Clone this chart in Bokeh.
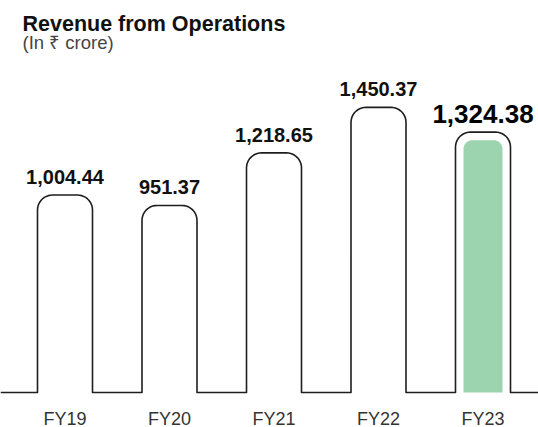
import numpy as np
from bokeh.plotting import figure
from bokeh.models import Range1d, Label, ColumnDataSource
from bokeh.core.properties import value
from bokeh.embed import file_html
from bokeh.resources import INLINE

# ---- data ----
categories = ["FY19", "FY20", "FY21", "FY22", "FY23"]
revenue = [1004.44, 951.37, 1218.65, 1450.37, 1324.38]
value_labels = ["1,004.44", "951.37", "1,218.65", "1,450.37", "1,324.38"]
highlight = "FY23"
title_text = "Revenue from Operations"
subtitle_text = "(In \u20b9 crore)"

# ---- layout constants (pixels) ----
W, H = 538, 427
PX_X = 104.5          # pixels per category
PX_Y = 0.1966         # pixels per crore
FIRST_CENTER = 64.5   # px from left of frame
BASE_FROM_TOP = 392   # px from top of frame
BAR_W = 55
RADIUS = 15
INSET = 8
IN_RADIUS = 9
FONT = "Liberation Sans"
LINE = "#1e1e1e"
GREEN = "#9dd4b0"

x_start = -FIRST_CENTER / PX_X
x_end = x_start + W / PX_X
y_end = BASE_FROM_TOP / PX_Y
y_start = y_end - H / PX_Y

p = figure(width=W, height=H, output_backend="svg", toolbar_location=None,
           x_range=Range1d(x_start, x_end), y_range=Range1d(y_start, y_end),
           min_border=0, outline_line_color=None)
p.axis.visible = False
p.grid.visible = False
p.background_fill_color = "white"
p.border_fill_color = "white"


def corner(cx, cy, rx, ry, t0, t1, n=12):
    t = np.linspace(t0, t1, n)
    return list(cx + rx * np.cos(t)), list(cy + ry * np.sin(t))


def rounded_top(xc, top, half_w, r_px):
    rx, ry = r_px / PX_X, r_px / PX_Y
    xl, xr = xc - half_w, xc + half_w
    xs, ys = [xl], [0.0]
    cx, cy = corner(xl + rx, top - ry, rx, ry, np.pi, np.pi / 2)
    xs += cx; ys += cy
    cx, cy = corner(xr - rx, top - ry, rx, ry, np.pi / 2, 0)
    xs += cx; ys += cy
    xs.append(xr); ys.append(0.0)
    return xs, ys


# highlight fill
hi = categories.index(highlight)
gx, gy = rounded_top(hi, revenue[hi] - INSET / PX_Y, (BAR_W / 2 - INSET) / PX_X, IN_RADIUS)
p.patch(gx, gy, fill_color=GREEN, line_color=None)

# outline path (baseline + open rounded bars)
px, py = [x_start], [0.0]
for i, v in enumerate(revenue):
    bx, by = rounded_top(i, v, (BAR_W / 2) / PX_X, RADIUS)
    px += bx; py += by
px.append(x_end); py.append(0.0)
p.line(px, py, line_color=LINE, line_width=1.6, line_join="round")

# value labels
idx = list(range(len(categories)))
normal = [i for i in idx if i != hi]
src = ColumnDataSource(dict(x=normal, y=[revenue[i] for i in normal],
                            t=[value_labels[i] for i in normal]))
p.text(x="x", y="y", text="t", source=src, text_align="center",
       text_baseline="alphabetic", y_offset=-18, text_font=value(FONT),
       text_font_style="bold", text_font_size="20px", text_color="#111111")
p.text(x=[hi], y=[revenue[hi]], text=[value_labels[hi]], text_align="center",
       text_baseline="alphabetic", y_offset=-18, text_font=value(FONT),
       text_font_style="bold", text_font_size="26px", text_color="#000000")

# category labels
p.text(x=idx, y=[0.0] * len(idx), text=categories, text_align="center",
       text_baseline="alphabetic", y_offset=26, text_font=value(FONT),
       text_font_size="18px", text_color="#333333")

# titles
p.add_layout(Label(x=22, y=H - 23.5, x_units="screen", y_units="screen",
                   text=title_text, text_font=FONT, text_font_style="bold",
                   text_font_size="21.5px", text_color="#111111",
                   text_baseline="alphabetic"))
p.add_layout(Label(x=22, y=H - 42, x_units="screen", y_units="screen",
                   text=subtitle_text, text_font=FONT,
                   text_font_size="18.5px", text_color="#444444",
                   text_baseline="alphabetic"))

open("out.html", "w").write(file_html(p, INLINE))
